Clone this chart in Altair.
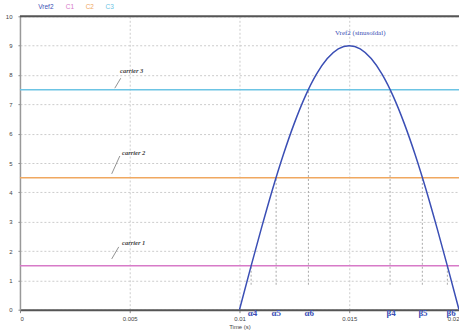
import altair as alt
import pandas as pd

# Reference sinusoid
t_ref = [0.0100, 0.0105, 0.0110, 0.0115, 0.0120, 0.0125, 0.0130, 0.0135, 0.0140, 0.0145,
         0.0150, 0.0155, 0.0160, 0.0165, 0.0170, 0.0175, 0.0180, 0.0185, 0.0190, 0.0195, 0.0200]
v_ref = [0.00, 1.41, 2.78, 4.09, 5.29, 6.36, 7.28, 8.02, 8.56, 8.89,
         9.00, 8.89, 8.56, 8.02, 7.28, 6.36, 5.29, 4.09, 2.78, 1.41, 0.00]

# Carrier levels
carrier_names = ["C1", "C2", "C3"]
carrier_levels = [1.5, 4.5, 7.5]
carrier_colors = ["#d77ac8", "#f0a860", "#6cc4e4"]

# Crossing markers
mark_t = [0.01053, 0.01167, 0.01314, 0.01686, 0.01833, 0.01947]
mark_v = [1.5, 4.5, 7.5, 7.5, 4.5, 1.5]
mark_label = ["α4", "α5", "α6", "β4", "β5", "β6"]
label_t = [0.01059, 0.01168, 0.01318, 0.01691, 0.01836, 0.01964]

# Carrier annotations
ann_text = ["carrier 3", "carrier 2", "carrier 1"]
ann_t = [0.00509, 0.00518, 0.00518]
ann_v = [8.13, 5.34, 2.28]
arr_t0 = [0.00432, 0.00418, 0.00418]
arr_v0 = [7.55, 4.63, 1.73]
arr_t1 = [0.00459, 0.00455, 0.00450]
arr_v1 = [7.89, 5.24, 2.14]

x_ticks = [0, 0.005, 0.01, 0.015, 0.02]
x_tick_labels = ["0", "0.005", "0.01", "0.015", "0.02"]
y_ticks = list(range(0, 11))

legend_names = ["Vref2", "C1", "C2", "C3"]
legend_colors = ["#3b4fb5", "#d77ac8", "#f0a860", "#6cc4e4"]

FONT = "Liberation Sans"

xs = alt.Scale(domain=[0, 0.02], nice=False)
ys = alt.Scale(domain=[0, 10], nice=False)

ref_df = pd.DataFrame({"t": t_ref, "v": v_ref})
car_df = pd.DataFrame({"name": carrier_names, "level": carrier_levels,
                       "t0": [0.0] * 3, "t1": [0.02] * 3})
mk_df = pd.DataFrame({"t": mark_t, "v": mark_v, "lab": mark_label, "lt": label_t,
                      "v0": [0.85] * 6})
ann_df = pd.DataFrame({"text": ann_text, "t": ann_t, "v": ann_v,
                       "t0": arr_t0, "v0": arr_v0, "t1": arr_t1, "v1": arr_v1})
leg_df = pd.DataFrame({"name": legend_names, "color": legend_colors,
                       "px": [26, 50, 70, 90]})

label_expr = ("datum.value == 0 ? '0' : abs(datum.value - 0.005) < 1e-9 ? '0.005' : "
              "abs(datum.value - 0.01) < 1e-9 ? '0.01' : abs(datum.value - 0.015) < 1e-9 ? '0.015' : '0.02'")

x_axis = alt.Axis(values=x_ticks, labelExpr=label_expr, title="Time (s)",
                  labelOverlap=False, labelFlush=True)
y_axis = alt.Axis(values=y_ticks, title=None, labelOverlap=False)


def NX(f):
    return alt.X(f, scale=xs, axis=x_axis)


def NY(f):
    return alt.Y(f, scale=ys, axis=y_axis)


frame = alt.Chart(ref_df).mark_line(opacity=0).encode(x=NX("t:Q"), y=NY("v:Q"))

top_border = alt.Chart(pd.DataFrame({"y": [10]})).mark_rule(
    color="#555555", strokeWidth=2).encode(y=NY("y:Q"))

carriers = alt.Chart(car_df).mark_rule(strokeWidth=1.5).encode(
    x=NX("t0:Q"), x2="t1:Q",
    y=NY("level:Q"),
    color=alt.Color("name:N", scale=alt.Scale(domain=carrier_names, range=carrier_colors),
                    legend=None))

markers = alt.Chart(mk_df).mark_rule(strokeDash=[2, 2], color="#aaaaaa", strokeWidth=1).encode(
    x=NX("t:Q"), y=NY("v0:Q"), y2="v:Q")

curve = alt.Chart(ref_df).mark_line(color="#3b4fb5", strokeWidth=1.5,
                                    interpolate="monotone", clip=True).encode(
    x=NX("t:Q"), y=NY("v:Q"))

labels = alt.Chart(mk_df).mark_text(font="Liberation Serif", fontSize=9, fontWeight="bold",
                                    color="#3b4fb5", baseline="alphabetic").encode(
    x=NX("lt:Q"), y=alt.value(300), text="lab:N")

ann_lines = alt.Chart(ann_df).mark_rule(color="#777777", strokeWidth=0.8).encode(
    x=NX("t0:Q"), x2="t1:Q", y=NY("v0:Q"), y2="v1:Q")

ann_texts = alt.Chart(ann_df).mark_text(font="Liberation Serif", fontSize=6.5,
                                        fontStyle="italic", fontWeight="bold",
                                        color="#444444").encode(
    x=NX("t:Q"), y=NY("v:Q"), text="text:N")

vref_label = alt.Chart(pd.DataFrame({"t": [0.0155], "v": [9.42],
                                     "text": ["Vref2 (sinusoïdal)"]})).mark_text(
    font="Liberation Serif", fontSize=7, color="#3b4fb5").encode(
    x=NX("t:Q"), y=NY("v:Q"), text="text:N")

legend = alt.Chart(leg_df).mark_text(font=FONT, fontSize=6.5, align="center").encode(
    x=alt.value(0), y=alt.value(-9), text="name:N",
    color=alt.Color("color:N", scale=None), xOffset=alt.XOffset("px:Q", scale=None))

chart = alt.layer(frame, top_border, markers, carriers, curve, labels, ann_lines,
                  ann_texts, vref_label, legend).properties(
    width=440, height=294, autosize="none",
    padding={"left": 20, "top": 16, "right": 0, "bottom": 24}
).configure_view(stroke=None).configure(background="white").configure_axisX(
    grid=True, gridDash=[2, 2], gridColor="#cccccc",
    domainColor="#555555", domainWidth=2, tickColor="#888888",
    tickSize=3, labelFontSize=6, labelColor="#444444",
    labelFont=FONT, titleFont=FONT, titleFontSize=6,
    titleFontWeight="normal", titleColor="#444444",
    titlePadding=2, labelPadding=3
).configure_axisY(
    grid=True, gridDash=[2, 2], gridColor="#cccccc", domainColor="#999999",
    domainWidth=1.5, tickColor="#888888", tickSize=2, labelFontSize=6,
    labelColor="#444444", labelFont=FONT, labelPadding=6
)

chart.save("out.html", embed_options={"renderer": "svg", "actions": False})
